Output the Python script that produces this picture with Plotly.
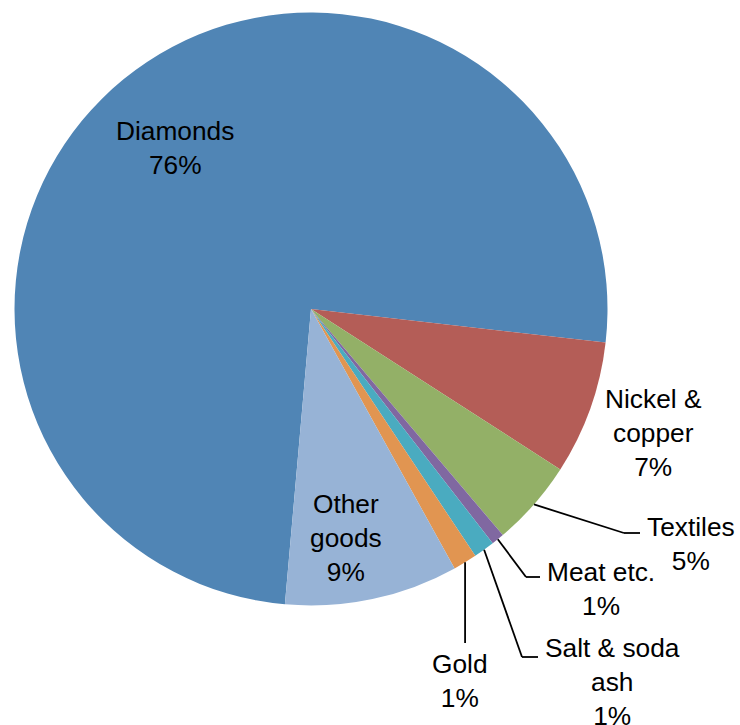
import math
import plotly.graph_objects as go

# ---- data ----
categories = ["Diamonds", "Nickel & copper", "Textiles", "Meat etc.",
              "Salt & soda ash", "Gold", "Other goods"]
values = [75.4, 7.3, 4.7, 0.7, 1.15, 1.3, 9.45]
pct_labels = ["76%", "7%", "5%", "1%", "1%", "1%", "9%"]
label_text = ["Diamonds", "Nickel &<br>copper", "Textiles", "Meat etc.",
              "Salt & soda<br>ash", "Gold", "Other<br>goods"]

# ---- style / layout ----
colors = ["#5085B5", "#B45D57", "#93B067", "#8068A1", "#4AABC0", "#E19551", "#97B3D6"]
W, H = 740, 725
CX, CY, R = 311, 309, 296.5
ROT = 185.05
FONT = "Arial, Liberation Sans, sans-serif"
FS = 26.3

# label centres (pixels)
label_pos = {
    "Diamonds": (175, 148),
    "Nickel & copper": (653, 433),
    "Textiles": (691, 544),
    "Meat etc.": (601, 589),
    "Salt & soda ash": (612, 682),
    "Gold": (460, 681),
    "Other goods": (346, 538),
}
# leader line elbows and ends (pixels); None x means same as start
leaders = {
    "Textiles": [(624, 533), (640, 533)],
    "Meat etc.": [(526, 577), (540, 577)],
    "Salt & soda ash": [(522, 657), (538, 657)],
    "Gold": [(None, 643)],
}

def px(x):
    return x / W

def py(y):
    return 1 - y / H

fig = go.Figure(go.Pie(
    labels=categories, values=values, sort=False, direction="clockwise",
    rotation=ROT, textinfo="none", hoverinfo="label+percent",
    marker=dict(colors=colors, line=dict(width=0)),
    domain=dict(x=[px(CX - R), px(CX + R)], y=[py(CY + R), py(CY - R)]),
    showlegend=False,
))

annotations = []
for cat, lt, pl in zip(categories, label_text, pct_labels):
    x, y = label_pos[cat]
    annotations.append(dict(
        x=px(x), y=py(y), xref="paper", yref="paper",
        text=f"{lt}<br>{pl}", showarrow=False, xanchor="center", yanchor="middle",
        align="center", font=dict(family=FONT, size=FS, color="#000000"),
    ))

# leader lines from slice mid-angles
total = sum(values)
shapes = []
ang = ROT
for cat, v in zip(categories, values):
    span = v / total * 360
    mid = math.radians(ang + span / 2)
    ang += span
    if cat not in leaders:
        continue
    sx = CX + R * math.sin(mid)
    sy = CY - R * math.cos(mid)
    pts = [(sx, sy)] + [((sx if p[0] is None else p[0]), p[1]) for p in leaders[cat]]
    for (x0, y0), (x1, y1) in zip(pts[:-1], pts[1:]):
        shapes.append(dict(type="line", xref="paper", yref="paper",
                           x0=px(x0), y0=py(y0), x1=px(x1), y1=py(y1),
                           line=dict(color="#000000", width=1.8)))

fig.update_layout(
    width=W, height=H, margin=dict(l=0, r=0, t=0, b=0),
    paper_bgcolor="white", plot_bgcolor="white",
    annotations=annotations, shapes=shapes,
)

fig.write_html("out.html")
